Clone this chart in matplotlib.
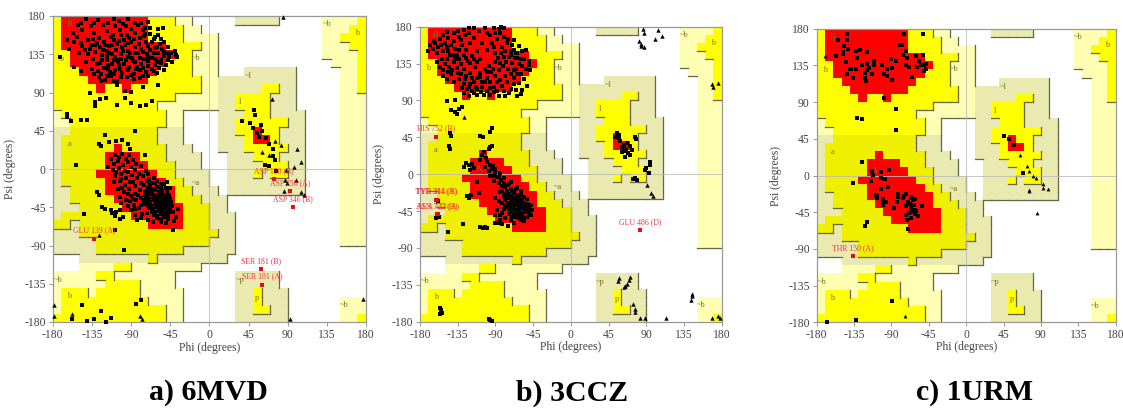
import matplotlib
matplotlib.use("Agg")
from matplotlib import pyplot as plt
from matplotlib.colors import ListedColormap
import numpy as np

plt.rcParams["font.family"] = ["Liberation Serif", "DejaVu Serif"]
plt.rcParams["axes.unicode_minus"] = False

# Region map on the 10 degree grid, top row is psi 170..180, first column phi -180..-170
# R core, Y allowed, O allowed (alpha side), K / P generous, . disallowed
region_rows = [
    "YRRRRRRRRRRYYYPP.....KKKKK.....PPPPY",
    "YRRRRRRRRRRYYYYPP..............PPPYY",
    "YRRRRRRRRRRYYYYPPPP............PPYYY",
    "YRRRRRRRRRRRRYYYYPP............PPPYY",
    "YYRRRRRRRRRRRRYYPPP............PPPPY",
    "YYRRRRRRRRRRRYYYPPP.............PPPY",
    "YYYRRRRRRRRRYYYYPPP...KKKKKK.....PPY",
    "YYYYRRRRRRRYYYYYYPPKKKKKKKKK.....PPY",
    "YYYYYRYYRYYYYYYYYPPKKKKKYYKK.....PPY",
    "YYYYYYYYYYYYYYPPPPPKKYYYYKKK.....PPP",
    "YYYYYYYYYYYYPPPPPPPKKYYYYKKK.....PPP",
    "PYYYYYYYYYYYYPP....KKKYYYKKKK....PPP",
    "PPYYYYYYYYYYYPP....KKYYYYYYKK....PPP",
    "KKOOOOOOOOOOKKK....KKYYRYYKKK....PPP",
    "KOOOOOOOOOOOKKK....KKKYRRYKKK....PPP",
    "KOOOOOOROOOOOKKK...KKKYYYYYKK....PPP",
    "KOOOOORRRROOOKKKK...KKKYYYKKK....PPP",
    "KOOOOORRRRROOOKKK...KKKKYYYKK....PPP",
    "KOOOORRRRRRROOKKKK..KKKYKYYKK....PPP",
    "KOOOOORRRRRRROOKKK..KKKKKKKKK....PPP",
    "KKOOOORRRRRRRROOKKK.KKKKKKKKK....PPP",
    "KKOOOOORRRRRRROOOKKK.............PPP",
    "KKKOOOOORRRRRRROOOKK.............PPP",
    "KOOOOOOOORRRRRROOOKKK............PPP",
    "OOKOOOOOOOORRRROOOKKK............PPP",
    "KKKOOOOOOOOOOOOOOOOKK............PPP",
    "KKKKKOOOOOOOOOOOOOKKK............PPP",
    "KKKKKOOOOOOOOOOKKKKKK...............",
    "...KKKKKKKKOKKKKKKKK................",
    "...PPPPYYPPPPPPPP...................",
    "PPPPPYYPPPPPPP.......KKKKK..........",
    "PPPPPPYYYYPPPP.......KKKKK..........",
    "PYYYPYYYYYPPPPP......KKYKKK.........",
    "PYYYYYYYYYYPPPP......KKYKKK......PPP",
    "PYYYYYYYYYYYYPP......KKYYKK......PPP",
    "YYYYYYYYYYYYYPP......KKKKKK......PPY",
]
region_codes = ".PKOYR"
region_colors = ["#FFFFFF", "#FFFFB4", "#E9E9B0", "#EFEF00", "#FFFF00", "#FF0000"]
region_levels = [0, 1, 1, 2, 2, 2]

# (text, phi, psi)
region_labels = [
    ("B", -161, 170), ("b", -170, 129), ("a", -161, 29), ("A", -110, 6),
    ("l", 35, 79), ("~l", 45, 109), ("~a", -15, -16), ("~b", -15, 130),
    ("~b", 135, 170), ("b", 170, 160), ("~b", -174, -130), ("b", -161, -150),
    ("~b", 155, -160), ("~p", 35, -131), ("p", 55, -152),
]

ticks = [-180, -135, -90, -45, 0, 45, 90, 135, 180]

a_res = [
    (-142,176),(-128,175),(-110,177),(-93,176),(-86,172),(-151,170),(-136,168),(-122,170),(-108,168),(-99,171),
    (-90,165),(-82,169),(-71,173),(-68,166),(-59,165),(-157,160),(-146,163),(-132,160),(-118,162),(-111,158),
    (-103,163),(-95,158),(-85,160),(-76,163),(-68,159),(-53,166),(-59,158),(-55,153),(-163,152),(-152,155),
    (-140,152),(-127,154),(-121,150),(-110,152),(-106,147),(-98,152),(-90,149),(-80,154),(-73,150),(-64,153),
    (-52,149),(-47,144),(-146,145),(-136,146),(-126,143),(-115,145),(-107,140),(-100,143),
    (-94,139),(-86,144),(-78,141),(-71,145),(-63,142),(-57,147),(-39,139),(-150,137),
    (-140,135),(-131,138),(-123,134),(-115,137),(-108,132),(-102,135),(-93,132),(-86,136),(-80,131),(-72,135),
    (-66,131),(-59,136),(-52,133),(-44,136),(-38,134),(-142,126),(-134,129),(-126,125),
    (-118,128),(-112,123),(-105,127),(-98,124),(-92,120),(-85,126),(-78,123),(-70,127),(-63,122),(-56,125),
    (-48,128),(-135,118),(-128,115),(-121,119),(-114,114),(-108,117),(-100,113),
    (-93,116),(-87,112),(-80,116),(-73,114),(-66,118),(-60,113),(-52,117),(-127,108),(-120,105),
    (-113,109),(-106,104),(-102,108),(-87,106),(-80,107),(-70,109),(-124,112),(-117,122),(-110,128),(-103,118),
    (-96,128),(-89,131),(-83,120),(-75,130),(-68,140),(-61,129),(-54,141),(-47,137),(-118,139),(-112,146),
    (-104,151),(-97,146),(-92,154),(-75,157),(-129,148),(-134,153),
    (-147,172),(-133,172),(-116,172),(-104,174),(-96,168),(-78,172),(-74,166),(-155,150),(-148,148),(-143,140),
    (-137,141),(-131,146),(-122,140),(-118,133),(-112,135),(-106,128),(-101,130),(-99,139),(-91,136),(-88,127),
    (-82,137),(-76,138),(-70,132),(-64,136),(-60,126),(-55,130),(-52,138),(-46,132),(-129,123),(-123,128),
    (-116,118),(-110,112),(-104,122),(-95,118),(-90,111),(-84,118),(-76,119),(-70,121),(-64,115),(-58,119),
    (-50,122),(-132,112),(-125,103),(-118,110),(-110,104),(-76,110),(-95,108),(-120,146),(-113,155),(-101,158),
    (-94,148),(-87,153),(-81,147),(-74,159),(-66,149),(-60,144),(-62,155),
    (-172,132),(-161,141),(-155,120),(-147,115),(-137,90),(-131,79),(-131,74),(-126,82),(-119,84),(-106,75),
    (-97,84),(-90,78),(-80,74),(-73,75),(-66,80),(-106,99),(-97,92),(-90,91),(-76,97),(-59,99),
    (-43,126),(-37,132),(-163,65),(-163,61),(-159,56),(-147,58),(-141,58),(-153,5),(-85,45),(-120,40),
    (-127,30),(-124,27),(-115,32),(-107,33),(-100,34),(-93,30),(-91,24),(-74,16),
    (-113,12),(-108,17),(-104,14),(-100,18),(-96,12),(-92,16),(-110,6),(-105,9),(-99,5),(-94,8),
    (-88,11),(-84,6),(-116,2),(-111,-1),(-104,1),(-97,-2),(-90,2),(-85,-1),(-79,3),(-73,-2),
    (-108,-8),(-102,-6),(-96,-10),(-89,-7),(-83,-11),(-76,-8),(-70,-6),(-64,-10),(-110,-15),(-103,-14),
    (-97,-19),(-91,-15),(-85,-20),(-79,-16),(-72,-14),(-66,-17),(-60,-14),(-54,-18),(-49,-15),(-105,-24),
    (-98,-27),(-92,-23),(-86,-29),(-80,-25),(-74,-27),(-68,-22),(-45,-22),(-103,-33),(-96,-36),(-90,-32),
    (-84,-37),(-78,-34),(-94,-44),(-87,-42),(-81,-46),(-75,-41),(-85,-54),(-77,-53),
    (-107,-3),(-101,-12),(-93,-3),(-88,-15),(-81,-6),(-75,-19),(-69,-12),(-100,-22),(-94,-29),(-88,-35),
    (-82,-30),(-76,-37),(-101,-40),(-91,-38),(-85,-47),(-79,-42),(-90,-48),(-83,-60),(-78,-58),(-72,-52),
    (-70,-60),
    (-68,-18),(-62,-17),(-56,-19),(-52,-18),(-70,-22),(-65,-23),(-60,-21),(-55,-23),(-50,-22),(-72,-26),
    (-67,-27),(-63,-25),(-58,-27),(-54,-26),(-49,-27),(-74,-30),(-70,-31),(-66,-29),(-62,-31),(-58,-30),
    (-54,-31),(-50,-30),(-46,-31),(-73,-34),(-69,-35),(-65,-33),(-61,-35),(-57,-34),(-53,-35),(-49,-34),
    (-45,-35),(-72,-38),(-68,-39),(-64,-37),(-60,-39),(-56,-38),(-52,-39),(-48,-38),(-44,-39),(-71,-42),
    (-67,-43),(-63,-41),(-59,-43),(-55,-42),(-51,-43),(-47,-42),(-43,-43),(-69,-46),(-65,-47),(-61,-45),
    (-57,-47),(-53,-46),(-49,-47),(-45,-46),(-66,-50),(-62,-51),(-58,-49),(-54,-51),(-50,-50),(-46,-51),
    (-42,-50),(-64,-54),(-60,-55),(-56,-53),(-52,-55),(-48,-54),(-60,-58),(-56,-59),(-52,-57),(-47,-59),
    (-55,-62),(-50,-63),(-41,-61),(-65,-62),(-36,-47),(-38,-56),
    (-129,-27),(-127,-31),(-123,-45),(-120,-47),(-113,-48),(-112,-52),(-107,-51),(-103,-48),(-108,-55),(-103,-59),
    (-99,-57),(-108,-72),(-144,-53),(-98,-95),(-42,-72),(-146,-160),(-158,-177),(-141,-179),(-133,-176),(-124,-167),
    (-119,-180),(-113,-175),(-84,-159),(-78,-154),
    (51,70),(52,63),(38,56),(47,54),(50,48),(59,52),(55,42),(57,38),(61,45),(65,36),
    (69,30),(73,24),(73,15),(75,11),(64,5),(68,3),(77,-2),
]
a_gly = [
    (72,82),(101,24),(105,8),(97,2),(88,-1),(82,28),(76,33),(60,20),(68,17),(87,-13),
    (99,-13),(89,-16),(105,-27),(86,-26),(109,-30),(-179,-160),(-179,-173),(-158,-170),(-80,-173),(-77,-176),
    (93,-177),(177,-153),(85,179),(-127,-78),
]
a_out = [
    ("GLU 139 (A)", -132, -82), ("ASP 150 (B)", 74, -12), ("ASP 256 (A)", 93, -26),
    ("ASP 346 (B)", 96, -45), ("SER 181 (B)", 59, -118), ("SER 181 (A)", 61, -136),
]

b_res = [
    (-168,158),(-165,153),(-170,150),(-162,160),(-158,155),(-160,148),(-156,165),(-152,170),(-148,174),(-146,166),
    (-150,160),(-143,158),(-140,163),(-138,153),(-146,150),(-141,146),(-136,146),(-148,141),(-160,137),(-156,131),
    (-153,127),(-150,134),(-145,131),(-140,137),(-136,130),(-131,134),(-152,120),(-148,116),(-143,122),(-140,113),
    (-134,168),(-128,176),(-122,172),(-130,158),(-125,152),(-120,160),(-115,166),(-110,175),(-103,178),(-97,170),
    (-92,178),(-86,177),(-83,180),(-80,178),(-106,160),(-112,150),(-118,144),(-123,138),(-128,128),(-131,122),
    (-126,116),(-120,124),(-114,131),(-108,141),(-100,152),(-94,160),(-88,165),(-80,168),(-75,165),
    (-70,158),(-82,155),(-90,148),(-120,110),(-112,118),(-108,124),(-103,128),(-98,132),(-95,125),
    (-100,118),(-106,113),(-113,107),(-118,102),(-124,104),(-130,105),(-127,99),(-121,96),(-96,112),(-90,120),
    (-86,127),(-84,115),(-92,107),(-100,102),(-107,100),(-112,97),(-96,97),(-88,102),(-82,108),(-76,112),
    (-72,104),(-78,96),(-86,95),(-65,103),(-60,98),(-78,150),(-72,145),(-68,152),(-62,157),(-58,150),
    (-53,151),(-64,142),(-70,136),(-75,128),(-66,128),(-62,134),(-56,140),(-50,138),
    (-60,122),(-54,128),(-50,133),(-56,116),(-62,111),(-68,118),(-52,108),(-58,103),(-49,127),
    (-66,148),
    (-163,163),(-155,158),(-152,150),(-148,155),(-144,146),(-138,140),(-133,141),(-128,146),(-125,142),(-120,136),
    (-116,140),(-112,137),(-134,152),(-131,164),(-126,170),(-135,175),(-154,140),(-147,125),(-142,127),(-135,124),
    (-133,116),(-128,110),(-122,107),(-116,113),(-112,104),(-106,107),(-102,112),(-97,105),(-92,100),(-104,97),
    (-116,99),(-125,120),(-118,118),(-108,119),(-100,125),(-93,128),(-88,112),(-80,101),(-74,99),(-68,110),
    (-64,96),(-90,137),(-87,142),(-83,148),(-80,143),(-77,137),(-74,143),(-71,150),(-67,142),(-64,148),
    (-60,140),(-58,132),(-64,122),(-68,127),(-72,122),(-78,120),(-81,132),(-85,136),(-92,155),(-76,160),
    (-68,164),(-84,172),(-90,172),(-100,172),(-115,178),(-122,178),(-140,172),
    (-148,89),(-138,90),(-143,78),(-138,76),(-133,79),(-136,73),(-130,82),(-94,56),(-96,52),
    (-144,50),(-143,47),(-145,35),(-144,31),(-108,47),(-105,45),(-94,34),(-98,31),(-104,27),(-106,23),
    (-101,20),(-108,17),(-96,33),(-125,14),(-122,11),(-118,13),(-116,7),(-120,5),(-128,9),
    (-102,9),(-98,4),(-94,6),(-90,1),(-88,-3),(-84,2),(-80,-5),(-96,-2),(-92,-8),(-86,-11),
    (-82,-15),(-76,-13),(-72,-9),(-112,-9),(-110,-23),(-121,-29),(-119,-25),(-84,-22),(-80,-26),(-76,-21),
    (-72,-18),(-68,-23),(-64,-16),(-60,-25),(-78,-32),(-74,-29),(-70,-33),(-66,-30),(-62,-28),(-58,-32),
    (-76,-40),(-72,-37),(-68,-41),(-64,-36),(-60,-39),(-56,-35),(-52,-30),(-72,-46),(-68,-49),(-64,-45),
    (-60,-47),(-56,-43),(-52,-41),(-48,-37),(-70,-27),(-66,-38),(-62,-43),(-58,-48),(-74,-43),(-66,-52),
    (-62,-54),(-56,-52),(-50,-47),(-46,-44),(-69,-35),(-63,-33),(-75,-35),(-55,-40),(-86,-33),(-90,-29),
    (-100,15),(-97,11),(-93,10),(-90,6),(-92,-2),(-86,-4),(-83,-7),(-80,-11),(-78,-16),(-74,-12),
    (-82,-20),(-78,-24),(-74,-24),(-70,-20),(-66,-18),(-76,-29),(-72,-31),(-68,-29),(-64,-25),(-60,-21),
    (-72,-33),(-68,-33),(-64,-33),(-60,-35),(-56,-28),(-70,-38),(-66,-44),(-62,-38),(-58,-41),(-54,-37),
    (-70,-43),(-64,-49),(-60,-51),(-54,-46),(-52,-36),(-50,-43),(-78,-38),(-82,-35),(-80,-42),(-74,-48),
    (-70,-52),(-66,-46),(-58,-55),(-52,-52),(-60,-56),(-56,-57),(-48,-50),(-58,-37),(-62,-33),(-66,-35),
    (-88,-44),(-85,-50),(-82,-47),(-90,-50),(-84,-56),(-78,-54),(-71,-56),(-75,-63),(-68,-60),(-90,-59),
    (-86,-60),(-82,-61),(-108,-65),(-105,-66),(-102,-65),(-100,-66),(-129,-61),(-146,-70),(-121,-28),(-124,-26),
    (-156,-163),(-155,-166),(-154,-169),(-156,-171),(-98,-177),(-96,-178),(-94,-179),(-160,-31),(-158,-33),(-161,-53),
    (-157,-52),
    (53,46),(55,50),(57,44),(59,40),(63,36),(61,33),(66,31),(70,34),(64,28),(61,27),
    (68,26),(65,21),(73,29),(76,45),(78,43),(71,24),(58,48),(67,38),
    (94,15),(94,11),(88,5),(90,8),(93,1),(77,-5),(74,-6),(79,-7),
]
b_gly = [
    (-127,70),(86,177),(87,172),(81,162),(84,159),(87,155),(84,157),(104,176),(109,169),(101,165),
    (168,110),(170,107),(176,111),(91,-13),(96,-23),(98,-26),(58,-127),(56,-130),(71,-125),(69,-129),
    (67,-134),(65,-137),(63,-138),(74,-159),(76,-165),(77,-168),(83,-176),(88,-176),(114,-175),(144,-149),
    (143,-153),(145,-146),(168,-176),(176,-173),(178,-175),
]
b_out = [
    ("HIS 752 (B)", -161, 46), ("TYR 314 (B)", -160, -31), ("TYR 314 (A)", -161, -31),
    ("ASN 722 (B)", -160, -49), ("ALA 722 (A)", -159, -49), ("GLU 486 (D)", 83, -68),
]

c_res = [
    (-144,174),(-143,166),(-154,166),(-147,159),(-142,155),(-148,152),(-148,149),(-133,153),(-128,154),(-132,144),
    (-120,152),(-157,146),(-145,139),(-140,130),(-144,124),(-136,119),(-139,130),(-133,130),(-125,136),(-119,137),
    (-111,141),(-111,136),(-117,132),(-120,129),(-122,126),(-114,125),(-122,119),(-121,116),(-101,135),(-95,131),
    (-89,132),(-91,143),(-85,140),(-80,160),(-77,160),(-75,174),(-52,174),(-72,153),(-76,148),(-71,144),
    (-52,148),(-61,146),(-57,141),(-73,135),(-69,133),(-65,121),(-59,133),(-55,135),(-51,136),(-49,137),
    (-51,128),(-49,130),(-99,124),(-95,122),(-89,117),(-99,95),(-84,82),(-132,71),(-125,69),(-84,56),
    (-125,17),(-136,-9),(-113,5),(-112,1),(-103,4),(-93,7),(-102,-3),(-98,-4),(-115,-7),(-103,-16),
    (-94,-14),(-109,-24),(-108,-28),(-100,-31),(-82,-26),(-76,-28),(-72,-23),(-66,-26),(-62,-29),(-70,-33),
    (-108,-25),(-100,-29),(-96,-33),(-100,-36),(-82,-23),(-83,-32),(-87,-40),(-75,-25),(-67,-27),(-73,-37),
    (-67,-39),(-63,-36),(-53,-37),(-73,-49),(-64,-45),(-58,-50),(-66,-52),(-70,-65),(-62,-42),(-69,-46),
    (-67,-52),(-71,-55),(-60,-43),(-64,-30),(-68,-35),(-66,-41),(-62,-47),
    (-120,-57),(-122,-62),(-89,-154),(-168,-180),(-133,-177),
    (45,49),(52,45),(57,38),(68,3),
]
c_gly = [
    (-170,146),(73,12),(65,25),(81,-1),(84,-3),(76,5),(92,-11),(93,-15),(76,-19),(85,-46),
    (76,-18),(98,-16),(-74,-172),
]
c_out = [("THR 150 (A)", -136, -99)]

# pixel rectangles (left, top, right, bottom) of the three frames, then marker area
panels = [
    ((52.7, 16, 366, 322), a_res, a_gly, a_out, 10),
    ((420, 26.7, 721.7, 321.7), b_res, b_gly, b_out, 10),
    ((816.7, 28.7, 1115.7, 322.3), c_res, c_gly, c_out, 7.5),
]
captions = [("a) 6MVD", 208.5), ("b) 3CCZ", 572.5), ("c) 1URM", 975)]

W, H = 1123, 408
grid_edges = np.arange(-180, 181, 10)


def draw_regions(ax):
    cells = np.array([[region_codes.index(c) for c in row] for row in region_rows])
    ax.pcolormesh(grid_edges, grid_edges[::-1], cells, cmap=ListedColormap(region_colors),
                  vmin=-0.5, vmax=5.5, zorder=1)
    # dark edge on the lower and right side of each step between levels
    level = np.array(region_levels)[cells]
    for r in range(36):
        for i in range(36):
            phi0, psi0 = grid_edges[i], 180 - 10 * r
            if r < 35 and level[r, i] > level[r + 1, i]:
                ax.plot([phi0, phi0 + 10], [psi0 - 10, psi0 - 10], color="#66664a", lw=0.9, zorder=2)
            if i < 35 and level[r, i] > level[r, i + 1]:
                ax.plot([phi0 + 10, phi0 + 10], [psi0, psi0 - 10], color="#66664a", lw=0.9, zorder=2)
    ax.axhline(0, color="#bbbbbb", lw=0.6, zorder=3)
    ax.axvline(0, color="#bbbbbb", lw=0.6, zorder=3)


fig = plt.figure(figsize=(W / 100, H / 100), dpi=100)
for (left, top, right, bottom), res, gly, out, msize in panels:
    ax = fig.add_axes([left / W, 1 - bottom / H, (right - left) / W, (bottom - top) / H])
    draw_regions(ax)
    for text, phi, psi in region_labels:
        ax.text(phi, psi, text, fontsize=6, color="#77722a", ha="center", va="center", zorder=4)
    res_phi, res_psi = zip(*res)
    ax.scatter(res_phi, res_psi, marker="s", s=msize, color="black", linewidths=0, zorder=5, clip_on=False)
    gly_phi, gly_psi = zip(*gly)
    ax.scatter(gly_phi, gly_psi, marker="^", s=msize, color="black", linewidths=0, zorder=5, clip_on=False)
    for text, phi, psi in out:
        ax.scatter([phi], [psi], marker="s", s=7, color="#e01010", linewidths=0, zorder=6)
        ax.annotate(text, (phi, psi), xytext=(0, 3), textcoords="offset points", fontsize=5.6,
                    color="#ee3344", ha="center", va="bottom", zorder=7)
    ax.set_xlim(-180, 180)
    ax.set_ylim(-180, 180)
    ax.set_xticks(ticks)
    ax.set_yticks(ticks)
    ax.tick_params(labelsize=8.4, length=3, width=0.6, color="#888888", labelcolor="#444444", pad=2)
    for spine in ax.spines.values():
        spine.set_color("#999999")
        spine.set_linewidth(0.9)
        spine.set_zorder(4)
    ax.set_xlabel("Phi (degrees)", fontsize=8.4, color="#444444")
    ax.set_ylabel("Psi (degrees)", fontsize=8.4, color="#444444")
    ax.xaxis.set_label_coords(0.5, -0.065)
    ax.yaxis.set_label_coords(-0.116, 0.5)

for text, x in captions:
    fig.text(x / W, 1 - 393 / H, text, fontsize=21.5, fontweight="bold", color="black",
             ha="center", va="center")

fig.savefig("out.png", dpi=100)
